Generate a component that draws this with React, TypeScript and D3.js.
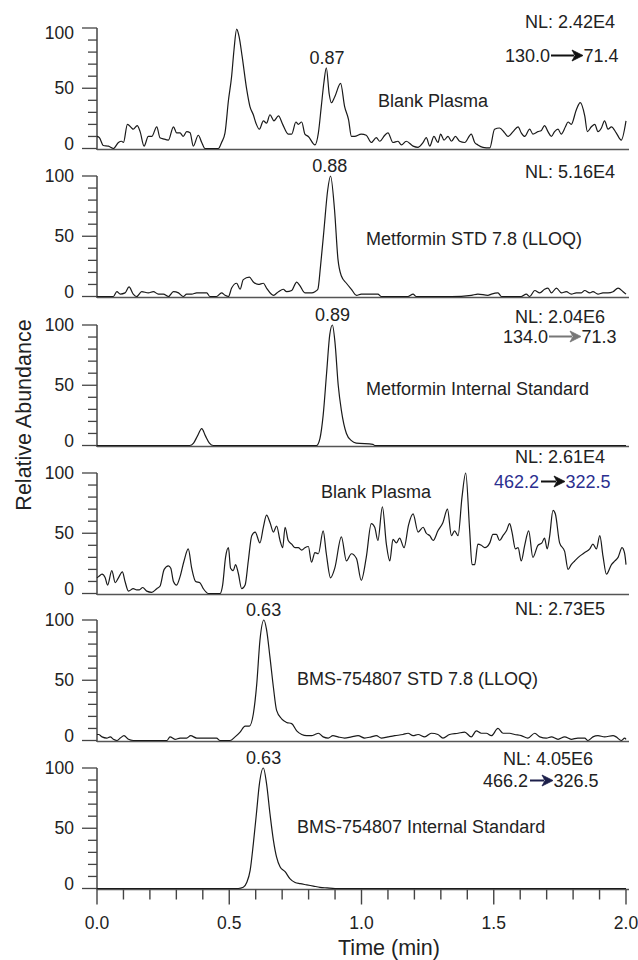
import React from 'react';
import * as d3 from 'd3';

type Pt = [number, number];

// ---------- DATA (time [min], relative abundance [%]) ----------
const blankPlasmaMet: Pt[] = [
  [0.000,10],[0.009,9],[0.024,2.5],[0.043,2],[0.062,0],[0.081,5],[0.093,6],[0.100,5],[0.115,20],[0.131,17],[0.137,16],[0.152,19],[0.163,14],[0.178,2],[0.194,10],[0.207,10],[0.226,18],[0.238,9],[0.251,8],[0.270,7],[0.289,18],[0.301,13],[0.314,13],[0.326,10],[0.339,14],[0.352,13],[0.364,2],[0.383,11],[0.396,5],[0.408,0],[0.459,0],[0.471,5],[0.484,13],[0.497,40],[0.509,60],[0.518,82],[0.528,99],[0.537,93],[0.549,76],[0.566,49],[0.578,35],[0.591,28],[0.601,21],[0.614,16],[0.629,23],[0.641,21],[0.654,28],[0.669,23],[0.686,27],[0.702,20],[0.723,12],[0.736,12],[0.752,22],[0.761,20],[0.774,22],[0.786,12],[0.799,10],[0.824,3],[0.837,13],[0.848,35],[0.858,55],[0.867,67],[0.878,45],[0.886,38],[0.899,43],[0.921,54],[0.936,35],[0.951,24],[0.962,10],[0.974,10],[0.999,12],[1.018,11],[1.037,5],[1.056,9],[1.069,6],[1.088,11],[1.100,13],[1.119,5],[1.138,6],[1.151,3],[1.169,6],[1.195,2],[1.214,1],[1.233,5],[1.245,9],[1.258,2],[1.274,10],[1.289,5],[1.299,12],[1.312,7],[1.327,10],[1.340,6],[1.355,10],[1.371,6],[1.390,5],[1.415,12],[1.428,5],[1.440,3],[1.459,1],[1.485,0.5],[1.503,16],[1.522,17],[1.541,13],[1.554,10],[1.573,14],[1.592,18],[1.604,13],[1.617,10],[1.636,16],[1.648,12],[1.667,14],[1.680,15],[1.692,19],[1.705,14],[1.718,10],[1.730,14],[1.743,16],[1.755,12],[1.771,18],[1.781,22],[1.793,20],[1.812,32],[1.827,38],[1.844,27],[1.854,14],[1.869,18],[1.882,20],[1.894,14],[1.907,17],[1.919,23],[1.932,16],[1.945,18],[1.963,13],[1.982,7],[2.000,23]
];

const metforminStd: Pt[] = [
  [0.000,0],[0.062,0],[0.075,4],[0.088,2],[0.106,3],[0.121,8],[0.137,2],[0.150,0],[0.169,4],[0.194,3],[0.213,4],[0.232,2],[0.251,2],[0.270,0],[0.289,4],[0.308,3],[0.326,0],[0.339,2],[0.358,2],[0.377,3],[0.415,3],[0.427,0],[0.452,0],[0.471,3],[0.484,1],[0.497,0],[0.509,7],[0.528,11],[0.541,6],[0.553,14],[0.576,16],[0.591,12],[0.610,10],[0.629,11],[0.641,7],[0.667,1],[0.686,4],[0.704,6],[0.717,4],[0.736,5],[0.755,12],[0.767,9],[0.786,3],[0.812,3],[0.824,4],[0.835,6],[0.845,25],[0.858,55],[0.872,88],[0.883,100],[0.898,72],[0.911,31],[0.924,17],[0.943,11],[0.962,6],[0.981,1],[0.999,2],[1.024,2],[1.062,2],[1.075,0],[1.176,0],[1.195,2],[1.207,0],[1.340,0],[1.415,1],[1.440,2],[1.478,1],[1.491,2],[1.516,3],[1.529,0],[1.604,0],[1.623,2],[1.636,0],[1.655,5],[1.674,3],[1.692,6],[1.705,7],[1.718,3],[1.737,7],[1.756,3],[1.774,4],[1.793,2],[1.812,3],[1.831,3],[1.844,5],[1.863,3],[1.875,4],[1.894,2],[1.913,3],[1.932,3],[1.951,4],[1.970,7],[1.989,4],[2.000,2]
];

const metforminIS: Pt[] = [
  [0.000,0],[0.350,0],[0.365,2],[0.380,8],[0.396,14],[0.410,8],[0.425,2],[0.440,0],[0.830,0],[0.843,6],[0.855,25],[0.868,60],[0.880,92],[0.890,100],[0.900,85],[0.912,50],[0.924,29],[0.943,10],[0.962,4],[0.980,2],[1.043,1],[1.050,0],[2.000,0]
];

const blankPlasmaBms: Pt[] = [
  [0.000,13],[0.006,14],[0.019,16],[0.031,13],[0.040,7],[0.056,19],[0.069,9],[0.081,13],[0.096,18],[0.106,10],[0.119,2],[0.137,4],[0.150,3],[0.160,3],[0.173,5],[0.188,2],[0.207,1],[0.226,4],[0.238,6],[0.254,20],[0.270,23],[0.279,21],[0.289,10],[0.301,7],[0.314,14],[0.329,27],[0.345,37],[0.358,21],[0.373,10],[0.389,9],[0.402,4],[0.421,0],[0.465,0],[0.475,7],[0.486,30],[0.497,38],[0.505,21],[0.515,19],[0.524,24],[0.534,17],[0.547,4],[0.560,7],[0.572,27],[0.585,48],[0.598,51],[0.616,42],[0.629,55],[0.641,65],[0.654,59],[0.667,51],[0.679,56],[0.692,44],[0.702,38],[0.711,55],[0.723,44],[0.736,41],[0.749,38],[0.761,38],[0.774,36],[0.786,38],[0.799,39],[0.811,26],[0.824,34],[0.837,33],[0.855,52],[0.867,33],[0.883,13],[0.899,21],[0.924,47],[0.943,27],[0.962,33],[0.981,29],[0.999,11],[1.018,30],[1.037,58],[1.050,55],[1.062,44],[1.079,72],[1.094,41],[1.107,27],[1.119,45],[1.132,42],[1.144,46],[1.161,38],[1.178,57],[1.195,66],[1.214,51],[1.233,55],[1.245,50],[1.258,48],[1.271,44],[1.289,52],[1.308,59],[1.325,70],[1.340,48],[1.352,52],[1.365,48],[1.380,80],[1.394,100],[1.409,52],[1.418,24],[1.428,24],[1.440,41],[1.453,40],[1.466,38],[1.485,42],[1.497,49],[1.510,49],[1.522,44],[1.535,48],[1.548,52],[1.560,58],[1.569,51],[1.582,37],[1.592,38],[1.604,27],[1.617,40],[1.632,52],[1.648,30],[1.667,40],[1.682,42],[1.692,46],[1.702,37],[1.711,47],[1.724,69],[1.733,66],[1.749,42],[1.768,35],[1.781,20],[1.793,24],[1.806,27],[1.825,31],[1.844,34],[1.863,37],[1.875,41],[1.888,37],[1.901,48],[1.913,31],[1.926,16],[1.945,24],[1.958,27],[1.970,30],[1.985,38],[1.995,33],[2.000,24]
];

const bmsStd: Pt[] = [
  [0.000,5],[0.006,5],[0.019,3],[0.037,2],[0.050,3],[0.062,1],[0.075,0],[0.088,2],[0.102,4],[0.119,1],[0.137,0],[0.264,0],[0.276,3],[0.295,1],[0.314,2],[0.339,2],[0.354,4],[0.377,2],[0.402,2],[0.452,2],[0.465,0],[0.503,0],[0.522,3],[0.541,7],[0.560,12],[0.576,12],[0.591,22],[0.604,47],[0.616,83],[0.631,100],[0.641,92],[0.654,69],[0.667,44],[0.679,25],[0.698,18],[0.717,15],[0.736,14],[0.755,8],[0.774,5],[0.793,4],[0.812,4],[0.824,5],[0.837,6],[0.855,3],[0.874,2],[0.892,4],[0.911,3],[0.936,2],[0.962,3],[0.987,4],[1.012,2],[1.037,3],[1.056,4],[1.075,2],[1.100,3],[1.126,4],[1.157,5],[1.176,6],[1.195,4],[1.214,5],[1.239,3],[1.264,6],[1.289,5],[1.308,2],[1.333,5],[1.365,6],[1.390,7],[1.415,3],[1.434,8],[1.453,6],[1.472,6],[1.491,4],[1.516,10],[1.535,6],[1.560,6],[1.579,5],[1.604,4],[1.629,2],[1.655,6],[1.674,3],[1.699,2],[1.718,3],[1.743,1],[1.768,3],[1.793,1],[1.818,2],[1.844,2],[1.856,0],[1.875,3],[1.894,4],[1.919,3],[1.951,4],[1.963,3],[1.982,0],[1.995,2],[2.000,1]
];

const bmsIS: Pt[] = [
  [0.000,0],[0.534,0],[0.553,1],[0.566,5],[0.579,15],[0.591,37],[0.604,65],[0.613,85],[0.629,100],[0.641,87],[0.654,62],[0.667,40],[0.679,26],[0.692,18],[0.711,14],[0.730,8],[0.749,5],[0.768,4],[0.793,3],[0.818,2],[0.843,1],[0.870,0.5],[0.900,0],[2.000,0]
];

const traces: Pt[][] = [blankPlasmaMet, metforminStd, metforminIS, blankPlasmaBms, bmsStd, bmsIS];
const sampleNames = ['Blank Plasma', 'Metformin STD 7.8 (LLOQ)', 'Metformin Internal Standard', 'Blank Plasma', 'BMS-754807 STD 7.8 (LLOQ)', 'BMS-754807 Internal Standard'];
const nlLabels = ['NL: 2.42E4', 'NL: 5.16E4', 'NL: 2.04E6', 'NL: 2.61E4', 'NL: 2.73E5', 'NL: 4.05E6'];
const peakTimes: (number | null)[] = [0.87, 0.88, 0.89, null, 0.63, 0.63];
const transitions: ([string, string] | null)[] = [['130.0', '71.4'], null, ['134.0', '71.3'], ['462.2', '322.5'], null, ['466.2', '326.5']];
const yTicksMajor = [0, 50, 100];
const xTickLabels = ['0.0', '0.5', '1.0', '1.5', '2.0'];

// ---------- LAYOUT ----------
const W = 638, H = 960;
const X0 = 97, X1 = 626;
const panelTop = [28, 176, 325, 473, 620, 768];
const panelH = 120.5;
const FONT = 'Liberation Sans, Arial, Helvetica, sans-serif';
const nlPos = [[525, 28], [525, 178], [515, 323], [515, 463], [515, 615], [503, 765]];
const namePos = [[378, 107], [366, 245], [366, 395], [321, 498], [297, 685], [297, 833]];
// [textEnd, arrowStart, arrowEnd, baseline]
const transPos = [[550, 551, 583, 62], null, [548, 549, 581, 343], [539, 541, 565, 488], null, [528, 530, 553, 787]];
const transTextColor = ['#222', null, '#222', '#2b2f8f', null, '#222'];
const arrowColor = ['#111', null, '#777', '#111', null, '#1c1f4a'];

function Arrow({ x0, x1, y, color }: { x0: number; x1: number; y: number; color: string }) {
  const hl = 11;
  return (
    <g>
      <line x1={x0} y1={y} x2={x1 - hl + 2} y2={y} stroke={color} strokeWidth={2} />
      <path d={`M${x1 - hl},${y - 5.5} L${x1},${y} L${x1 - hl},${y + 5.5} L${x1 - hl + 3},${y} Z`} fill={color} stroke={color} strokeWidth={0.8} strokeLinejoin="round" />
    </g>
  );
}

export default function App() {
  const x = d3.scaleLinear().domain([0, 2]).range([X0, X1]);
  const xMinor = d3.range(0, 21).map(i => i / 10);
  const yMinor = d3.range(0, 11).map(i => i * 10);

  return (
    <svg width={W} height={H} style={{ position: 'absolute', left: 0, top: 0, background: '#fff' }} fontFamily={FONT}>
      <rect x={0} y={0} width={W} height={H} fill="#fff" />
      {traces.map((data, i) => {
        const top = panelTop[i];
        const y = d3.scaleLinear().domain([0, 100]).range([top + panelH, top]);
        const line = d3.line<Pt>().x(d => x(d[0])).y(d => y(d[1])).curve(d3.curveMonotoneX);
        const pt = peakTimes[i];
        let peakV = 0;
        if (pt !== null) {
          data.forEach(d => { if (Math.abs(d[0] - pt) < 0.02 && d[1] > peakV) peakV = d[1]; });
        }
        const tr = transitions[i];
        const tp = transPos[i];
        return (
          <g key={i}>
            {/* y axis */}
            <line x1={X0} x2={X0} y1={y(100)} y2={y(0) + 1.5} stroke="#444" strokeWidth={1.5} />
            {yMinor.map(v => (
              <line key={v} x1={X0 - (v % 50 === 0 ? 15 : 9)} x2={X0} y1={y(v)} y2={y(v)} stroke="#444" strokeWidth={1.3} />
            ))}
            {yTicksMajor.map(v => (
              <text key={v} x={74} y={v === 0 ? y(v) + 1.5 : y(v) + 6 + (i === 0 && v === 100 ? 5 : 0)} textAnchor="end" fontSize={17.5} fill="#222">{v}</text>
            ))}
            {/* baseline */}
            <line x1={X0} x2={629} y1={y(0) + 1} y2={y(0) + 1} stroke="#555" strokeWidth={1.6} />
            {/* trace */}
            <path d={line(data) || ''} fill="none" stroke="#1a1a1a" strokeWidth={1.2} strokeLinejoin="round" />
            {/* labels */}
            <text x={nlPos[i][0]} y={nlPos[i][1]} fontSize={18} fill="#222">{nlLabels[i]}</text>
            <text x={namePos[i][0]} y={namePos[i][1]} fontSize={18} fill="#222">{sampleNames[i]}</text>
            {pt !== null && (
              <text x={x(pt)} y={y(peakV) - 4} textAnchor="middle" fontSize={18} fill="#222">{pt.toFixed(2)}</text>
            )}
            {tr && tp && (
              <g>
                <text x={tp[0]} y={tp[3]} textAnchor="end" fontSize={18} fill={transTextColor[i] as string}>{tr[0]}</text>
                <Arrow x0={tp[1]} x1={tp[2]} y={tp[3] - 6.5} color={arrowColor[i] as string} />
                <text x={tp[2] + 0.5} y={tp[3]} fontSize={18} fill={transTextColor[i] as string}>{tr[1]}</text>
              </g>
            )}
          </g>
        );
      })}
      {/* bottom x axis ticks */}
      {xMinor.map((t, k) => {
        const y0 = panelTop[5] + panelH + 1;
        const major = k % 5 === 0;
        return <line key={k} x1={x(t)} x2={x(t)} y1={y0} y2={y0 + (major ? 15 : 10)} stroke="#444" strokeWidth={1.4} />;
      })}
      {xTickLabels.map((s, k) => (
        <text key={s} x={x(k * 0.5)} y={929} textAnchor="middle" fontSize={17.5} fill="#222">{s}</text>
      ))}
      <text x={389} y={955} textAnchor="middle" fontSize={21.5} fill="#222">Time (min)</text>
      <text transform="translate(31,415) rotate(-90)" textAnchor="middle" fontSize={21.5} fill="#222">Relative Abundance</text>
    </svg>
  );
}
